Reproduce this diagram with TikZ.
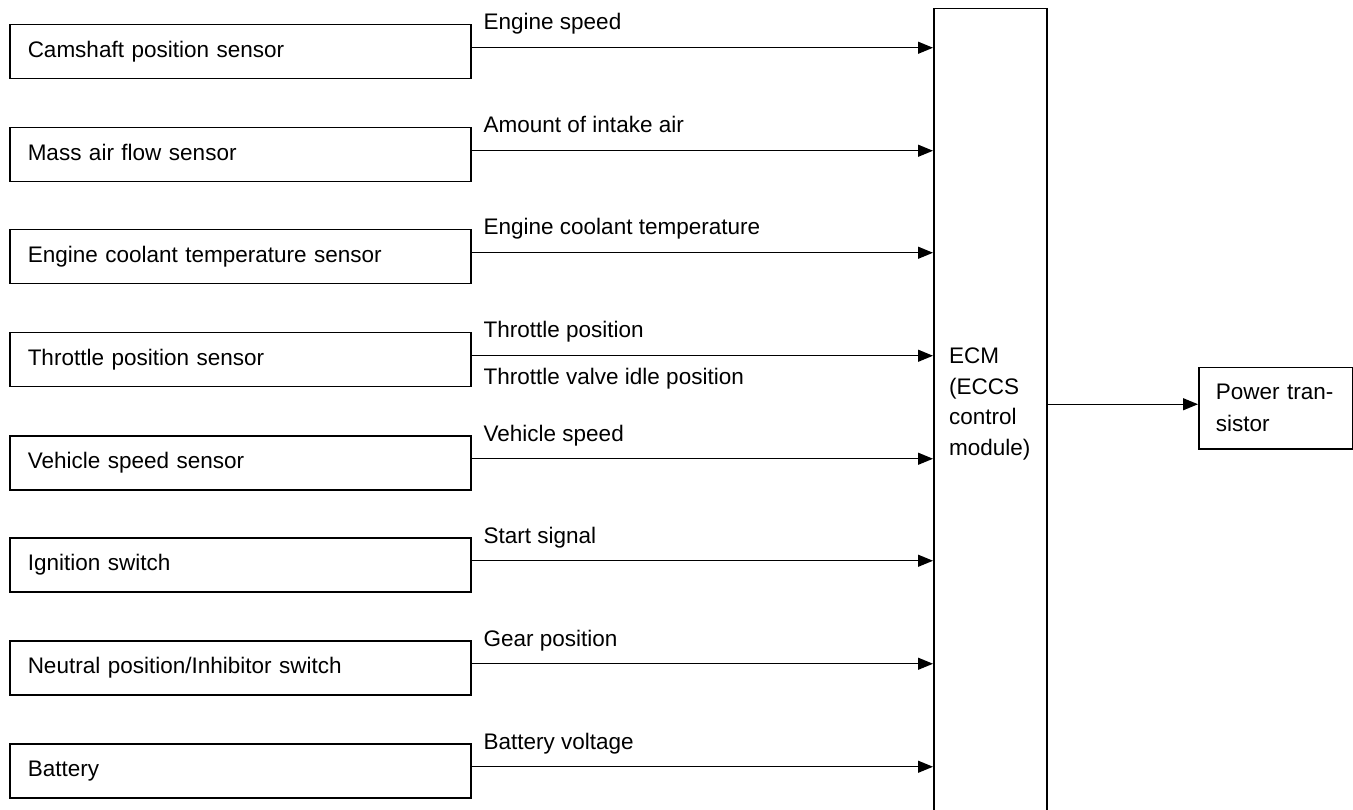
\documentclass[tikz,border=0pt]{standalone}
\usepackage{fontspec}
\setmainfont{Liberation Sans}
\usetikzlibrary{arrows.meta}
\begin{document}
\begin{tikzpicture}[x=1pt,y=-1pt,
  txt/.style={font=\fontsize{22.5}{26}\selectfont},
  sensor/.style={txt,draw,line width=1.5pt,rectangle,anchor=north west,
    minimum width=461pt,minimum height=54pt,text width=425pt,inner xsep=18pt,
    align=left,text height=16.5pt,text depth=4.5pt},
  sig/.style={line width=1.3pt,-{Triangle[length=15pt,width=12pt]}},
  lbl/.style={txt,anchor=base west,inner sep=0pt}]
\useasboundingbox (0,0) rectangle (1353,810);

% ECM block (runs past the bottom edge)
\node[draw,line width=1.5pt,anchor=north west,minimum width=113pt,minimum height=830pt,inner sep=0pt] (ecm) at (933,8) {};
\node[font=\fontsize{22.5}{30.5}\selectfont,align=left,anchor=west,inner sep=0pt] (ecmtxt) at (949,404)
  {ECM\\(ECCS\\control\\module)};

% Power transistor
\node[font=\fontsize{22.5}{32}\selectfont,draw,line width=1.5pt,anchor=north west,
  minimum width=154pt,minimum height=81pt,text width=120pt,inner xsep=17pt,align=left] (pt) at (1198,367)
  {Power tran-\\sistor};
\coordinate (po) at ([yshift=4pt]pt.west);
\draw[sig] (po -| ecm.east) -- (po);

% Sensors
\node[sensor] (s1) at (9,24)  {Camshaft position sensor};
\node[sensor] (s2) at (9,127) {Mass air flow sensor};
\node[sensor] (s3) at (9,229) {Engine coolant temperature sensor};
\node[sensor] (s4) at (9,332) {Throttle position sensor};
\node[sensor] (s5) at (9,435) {Vehicle speed sensor};
\node[sensor] (s6) at (9,537) {Ignition switch};
\node[sensor] (s7) at (9,640) {Neutral position/Inhibitor switch};
\node[sensor] (s8) at (9,743) {Battery};

% Signal labels
\node[lbl] (l1) at ([xshift=12pt,yshift=-6pt]s1.north east) {Engine speed};
\node[lbl] (l2) at ([xshift=12pt,yshift=-6pt]s2.north east) {Amount of intake air};
\node[lbl] (l3) at ([xshift=12pt,yshift=-6pt]s3.north east) {Engine coolant temperature};
\node[lbl] (l4) at ([xshift=12pt,yshift=-6pt]s4.north east) {Throttle position};
\node[lbl] (l4b) at ([xshift=12pt,yshift=-53pt]s4.north east) {Throttle valve idle position};
\node[lbl] (l5) at ([xshift=12pt,yshift=-6pt]s5.north east) {Vehicle speed};
\node[lbl] (l6) at ([xshift=12pt,yshift=-6pt]s6.north east) {Start signal};
\node[lbl] (l7) at ([xshift=12pt,yshift=-6pt]s7.north east) {Gear position};
\node[lbl] (l8) at ([xshift=12pt,yshift=-6pt]s8.north east) {Battery voltage};

% Signal arrows
\foreach \i in {1,...,8}{
  \coordinate (a\i) at ([yshift=4pt]s\i.east);
  \draw[sig] (a\i) -- (a\i -| ecm.west);
}
\end{tikzpicture}
\end{document}
